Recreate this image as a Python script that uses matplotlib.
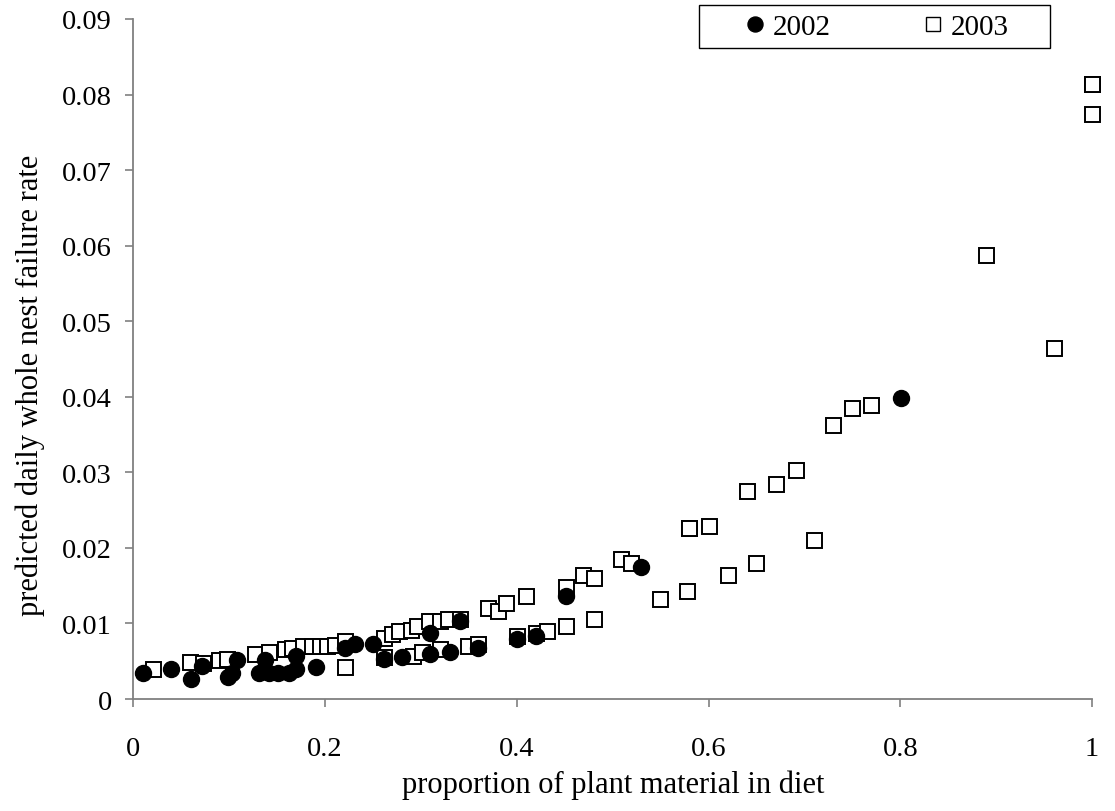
import matplotlib
matplotlib.use('Agg')
import matplotlib.pyplot as plt
from matplotlib.lines import Line2D
from matplotlib.patches import Rectangle

plt.rcParams['font.family'] = ['Liberation Serif', 'DejaVu Serif']

# 2002 (filled circles)
x_2002 = [0.010, 0.039, 0.060, 0.072, 0.099, 0.103, 0.108, 0.131, 0.1375, 0.141,
          0.151, 0.162, 0.170, 0.170, 0.190, 0.221, 0.231, 0.250, 0.261, 0.280,
          0.309, 0.309, 0.330, 0.341, 0.360, 0.400, 0.420, 0.451, 0.530, 0.801]
y_2002 = [0.0035, 0.0040, 0.0027, 0.0044, 0.0029, 0.0035, 0.0051, 0.0035, 0.0051, 0.0035,
          0.0035, 0.0035, 0.0057, 0.0040, 0.0042, 0.0068, 0.0073, 0.0073, 0.0053, 0.0055,
          0.0088, 0.0059, 0.0062, 0.0103, 0.0068, 0.0079, 0.0084, 0.0137, 0.0175, 0.0398]

# 2003 (open squares)
x_2003 = [0.021, 0.059, 0.073, 0.089, 0.098, 0.127, 0.141, 0.158, 0.165, 0.177,
          0.186, 0.195, 0.202, 0.210, 0.221, 0.221, 0.261, 0.261, 0.270, 0.277,
          0.290, 0.292, 0.2955, 0.301, 0.308, 0.320, 0.320, 0.328, 0.341, 0.349,
          0.360, 0.370, 0.380, 0.389, 0.400, 0.410, 0.420, 0.431, 0.451, 0.451,
          0.469, 0.480, 0.480, 0.509, 0.519, 0.549, 0.578, 0.580, 0.580, 0.600,
          0.620, 0.640, 0.650, 0.670, 0.691, 0.710, 0.730, 0.750, 0.769, 0.889,
          0.960, 1.000, 1.000, 1.000]
y_2003 = [0.0040, 0.0049, 0.0048, 0.0051, 0.0053, 0.0059, 0.0062, 0.0066, 0.0068, 0.0070,
          0.0070, 0.0070, 0.0070, 0.0072, 0.0077, 0.0042, 0.0081, 0.0055, 0.0086, 0.0090,
          0.0092, 0.0057, 0.0097, 0.0062, 0.0103, 0.0103, 0.0066, 0.0106, 0.0106, 0.0070,
          0.0073, 0.0121, 0.0116, 0.0127, 0.0084, 0.0137, 0.0088, 0.0090, 0.0148, 0.0097,
          0.0164, 0.0160, 0.0106, 0.0185, 0.0180, 0.0132, 0.0143, 0.0226, 0.0227, 0.0229,
          0.0164, 0.0275, 0.0180, 0.0285, 0.0303, 0.0211, 0.0363, 0.0385, 0.0389, 0.0588,
          0.0464, 0.0814, 0.0814, 0.0774]

x_ticks = [0, 0.2, 0.4, 0.6, 0.8, 1.0]
x_ticklabels = ['0', '0.2', '0.4', '0.6', '0.8', '1']
y_ticks = [0, 0.01, 0.02, 0.03, 0.04, 0.05, 0.06, 0.07, 0.08, 0.09]
y_ticklabels = ['0', '0.01', '0.02', '0.03', '0.04', '0.05', '0.06', '0.07', '0.08', '0.09']

fig = plt.figure(figsize=(11.15, 8.12), dpi=100)
ax = fig.add_axes([0.1196, 0.1379, 0.8598, 0.8375])

ax.plot(x_2003, y_2003, linestyle='none', marker='s', markersize=10.8,
        markerfacecolor='white', markeredgecolor='black', markeredgewidth=1.4,
        clip_on=False, zorder=3)
ax.plot(x_2002, y_2002, linestyle='none', marker='o', markersize=11.5,
        markerfacecolor='black', markeredgecolor='black', clip_on=False, zorder=4)

ax.set_xlim(0, 1)
ax.set_ylim(0, 0.09)
ax.set_xticks(x_ticks)
ax.set_xticklabels(x_ticklabels)
ax.set_yticks(y_ticks)
ax.set_yticklabels(y_ticklabels)
ax.tick_params(direction='out', length=5.8, width=1.2, colors='#808080',
               labelcolor='black', labelsize=20.5)
ax.tick_params(axis='y', pad=9.5)
ax.tick_params(axis='x', pad=21)

for side in ['top', 'right']:
    ax.spines[side].set_visible(False)
for side in ['left', 'bottom']:
    ax.spines[side].set_color('#808080')
    ax.spines[side].set_linewidth(1.3)

ax.set_xlabel('proportion of plant material in diet', fontsize=22, labelpad=6)
ax.set_ylabel('predicted daily whole nest failure rate', fontsize=22)
ax.yaxis.set_label_coords(-0.092, 0.463)

# legend: frameless entries plus a plain box drawn round them
handles = [Line2D([0], [0], linestyle='none', marker='o', markersize=10.8,
                  markerfacecolor='black', markeredgecolor='black'),
           Line2D([0], [0], linestyle='none', marker='s', markersize=9.4,
                  markerfacecolor='white', markeredgecolor='black', markeredgewidth=1.0)]
leg = ax.legend(handles, ['2002', '2003'], ncol=2, loc='center left',
                bbox_to_anchor=(0.633, 0.988), fontsize=21, frameon=False,
                handletextpad=0.12, columnspacing=3.0, borderpad=0.0,
                handlelength=1.0, borderaxespad=0.0)
box = Rectangle((0.590, 0.957), 0.366, 0.0636, transform=ax.transAxes,
                facecolor='white', edgecolor='black', linewidth=1.0,
                clip_on=False, zorder=2)
ax.add_patch(box)
leg.set_zorder(5)

plt.savefig('out.png', dpi=100)
